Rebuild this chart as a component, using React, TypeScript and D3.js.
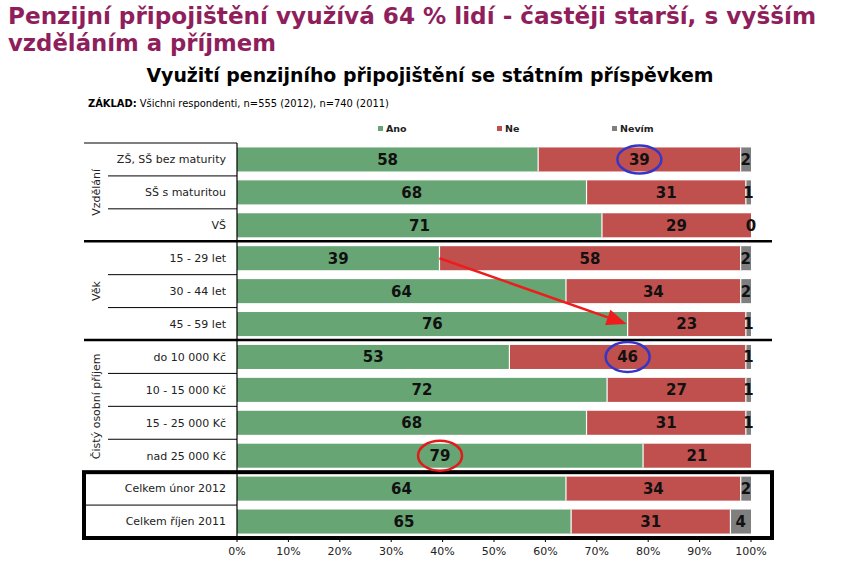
import React from "react";
import * as d3 from "d3";

const categories = [
  "ZŠ, SŠ bez maturity",
  "SŠ s maturitou",
  "VŠ",
  "15 - 29 let",
  "30 - 44 let",
  "45 - 59 let",
  "do 10 000 Kč",
  "10 - 15 000 Kč",
  "15 - 25 000 Kč",
  "nad 25 000 Kč",
  "Celkem únor 2012",
  "Celkem říjen 2011",
];
const ano = [58, 68, 71, 39, 64, 76, 53, 72, 68, 79, 64, 65];
const ne = [39, 31, 29, 58, 34, 23, 46, 27, 31, 21, 34, 31];
const nevim = [2, 1, 0, 2, 2, 1, 1, 1, 1, 0, 2, 4];
const showNevimLabel = [true, true, true, true, true, true, true, true, true, false, true, true];
const groups = [
  { name: "Vzdělání", start: 0, end: 2 },
  { name: "Věk", start: 3, end: 5 },
  { name: "Čistý osobní příjem", start: 6, end: 9 },
];
const seriesNames = ["Ano", "Ne", "Nevím"];
const seriesColors = ["#67a574", "#c0504d", "#7f7f7f"];
const ticks = [0, 10, 20, 30, 40, 50, 60, 70, 80, 90, 100];

const title1 = "Penzijní připojištění využívá 64 % lidí - častěji starší, s vyšším";
const title2 = "vzděláním a příjmem";
const subtitle = "Využití penzijního připojištění se státním příspěvkem";

export default function App() {
  const W = 861, H = 564;
  const x0 = 237, x1 = 751;
  const top = 143;
  const x = d3.scaleLinear().domain([0, 100]).range([x0, x1]);
  const y = d3.scaleBand<number>().domain(d3.range(categories.length)).range([top, 538]).paddingInner(0.27).paddingOuter(0.135);
  const step = y.step();
  const bh = y.bandwidth();
  const rowTop = (i: number) => top + i * step;
  const cy = (i: number) => (y(i) as number) + bh / 2;

  const rows = categories.map((c, i) => {
    const tot = ano[i] + ne[i] + nevim[i];
    const raw = [ano[i], ne[i], nevim[i]];
    const vals = raw.map((v) => (v / tot) * 100);
    let acc = 0;
    const segs = vals.map((v, k) => {
      const s = { k, a: acc, b: acc + v, label: raw[k] };
      acc += v;
      return s;
    });
    return { c, i, segs };
  });

  const font = "'DejaVu Sans', Verdana, sans-serif";
  const titleFont = "'DejaVu Sans Condensed', 'DejaVu Sans', sans-serif";
  const boxTop = rowTop(10);
  const boxBottom = rowTop(12);

  const seg = (i: number, k: number) => rows[i].segs[k];
  const mid = (s: { a: number; b: number }) => x((s.a + s.b) / 2);
  const arrowFrom: [number, number] = [x(seg(3, 0).b), cy(3)];
  const arrowTo: [number, number] = [x(seg(5, 1).a) - 1, cy(5)];
  const ang = Math.atan2(arrowTo[1] - arrowFrom[1], arrowTo[0] - arrowFrom[0]);
  const ah = 20, aw = 8;
  const back: [number, number] = [arrowTo[0] - ah * Math.cos(ang), arrowTo[1] - ah * Math.sin(ang)];
  const p1: [number, number] = [back[0] + aw * Math.sin(ang), back[1] - aw * Math.cos(ang)];
  const p2: [number, number] = [back[0] - aw * Math.sin(ang), back[1] + aw * Math.cos(ang)];

  return (
    <svg width={W} height={H} style={{ position: "absolute", left: 0, top: 0, background: "#fff" }}>
      <text x={8} y={24} fill="#8f1f5c" fontFamily={titleFont} fontWeight="bold" fontSize={23} textLength={808} lengthAdjust="spacingAndGlyphs">{title1}</text>
      <text x={8} y={51} fill="#8f1f5c" fontFamily={titleFont} fontWeight="bold" fontSize={23} textLength={268} lengthAdjust="spacingAndGlyphs">{title2}</text>
      <text x={430} y={82} textAnchor="middle" fill="#000" fontFamily={titleFont} fontWeight="bold" fontSize={19} textLength={567} lengthAdjust="spacingAndGlyphs">{subtitle}</text>
      <text x={88} y={107} fontFamily={titleFont} fontSize={11} fill="#000">
        <tspan fontWeight="bold">ZÁKLAD:</tspan> Všichni respondenti, n=555 (2012), n=740 (2011)
      </text>

      {seriesNames.map((n, k) => {
        const lx = [378, 497, 612][k];
        return (
          <g key={n}>
            <rect x={lx} y={126} width={5} height={5} fill={seriesColors[k]} />
            <text x={lx + 8} y={132} fontFamily={font} fontSize={9.5} fontWeight="bold" fill="#222">{n}</text>
          </g>
        );
      })}

      {rows.map((r) => (
        <g key={r.c}>
          {r.segs.map((s) =>
            s.b - s.a > 0 ? (
              <rect key={s.k} x={x(s.a)} y={y(r.i)} width={x(s.b) - x(s.a)} height={bh} fill={seriesColors[s.k]} />
            ) : null
          )}
          {r.segs.slice(1).map((s) =>
            s.b - s.a > 0 ? <line key={"sep" + s.k} x1={x(s.a)} x2={x(s.a)} y1={y(r.i)} y2={(y(r.i) as number) + bh} stroke="#fff" strokeWidth={1.2} /> : null
          )}
          {r.segs.map((s) => {
            if (s.k === 2 && !showNevimLabel[r.i]) return null;
            return (
              <text key={"t" + s.k} x={mid(s)} y={cy(r.i)} dy="0.36em" textAnchor="middle" fontFamily={font} fontWeight="bold" fontSize={15} fill="#111">
                {s.label}
              </text>
            );
          })}
          <text x={226} y={cy(r.i)} dy="0.35em" textAnchor="end" fontFamily={font} fontSize={11} fill="#222">{r.c}</text>
        </g>
      ))}

      <line x1={84} x2={x0} y1={top} y2={top} stroke="#000" strokeWidth={1.2} />
      <line x1={x0} x2={x0} y1={top} y2={boxBottom} stroke="#000" strokeWidth={1.2} />
      {groups.map((g) => (
        <g key={g.name}>
          {d3.range(g.start + 1, g.end + 1).map((i) => (
            <line key={i} x1={108} x2={x0} y1={rowTop(i)} y2={rowTop(i)} stroke="#000" strokeWidth={1} />
          ))}
          <text transform={`translate(${96},${(rowTop(g.start) + rowTop(g.end + 1)) / 2}) rotate(-90)`} textAnchor="middle" dy="0.35em" fontFamily={font} fontSize={11} fill="#222">{g.name}</text>
        </g>
      ))}
      {[3, 6].map((i) => (
        <line key={"g" + i} x1={84} x2={772} y1={rowTop(i) - 0.5} y2={rowTop(i) - 0.5} stroke="#000" strokeWidth={2.5} />
      ))}
      <line x1={84} x2={x0} y1={rowTop(11)} y2={rowTop(11)} stroke="#000" strokeWidth={1} />
      <rect x={84} y={boxTop} width={772 - 84} height={boxBottom - boxTop} fill="none" stroke="#000" strokeWidth={4} />

      {ticks.map((t) => (
        <g key={t}>
          <line x1={x(t)} x2={x(t)} y1={boxBottom} y2={boxBottom + 4} stroke="#000" strokeWidth={1} />
          <text x={x(t)} y={555} textAnchor="middle" fontFamily={font} fontSize={11} fill="#222">{t}%</text>
        </g>
      ))}

      <ellipse cx={mid(seg(0, 1))} cy={cy(0)} rx={22} ry={14} fill="none" stroke="#3535c8" strokeWidth={2.5} />
      <ellipse cx={mid(seg(6, 1))} cy={cy(6)} rx={22} ry={15} fill="none" stroke="#3535c8" strokeWidth={2.5} />
      <ellipse cx={mid(seg(9, 0))} cy={cy(9)} rx={22} ry={15} fill="none" stroke="#e01b1b" strokeWidth={2.5} />
      <line x1={arrowFrom[0]} y1={arrowFrom[1]} x2={back[0]} y2={back[1]} stroke="#ee1c1c" strokeWidth={2.5} />
      <polygon points={[arrowTo, p1, p2].map((p) => p.join(",")).join(" ")} fill="#ee1c1c" />
    </svg>
  );
}
